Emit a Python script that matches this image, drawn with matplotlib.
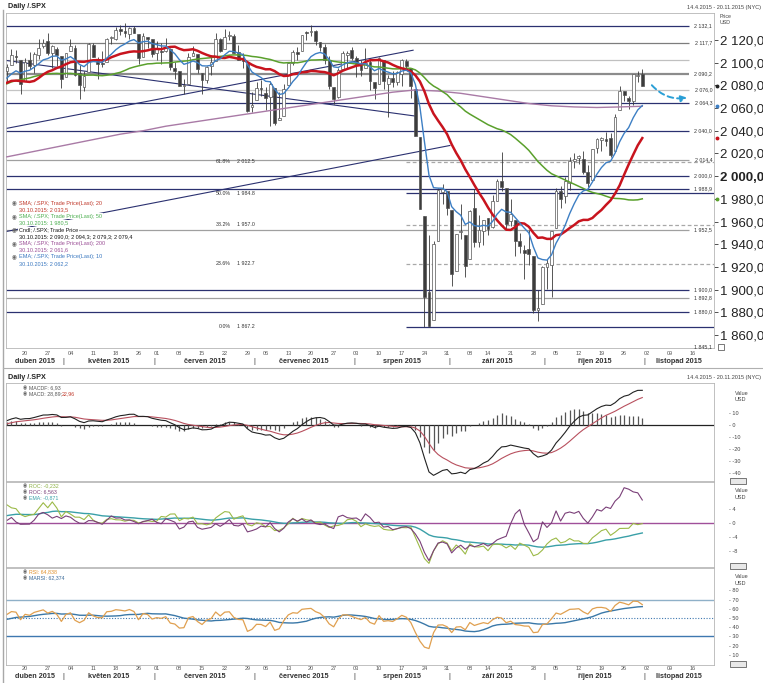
import numpy as np
import pandas as pd
import matplotlib
matplotlib.use("Agg")
import matplotlib.pyplot as plt
import matplotlib.transforms as mtransforms
from matplotlib.lines import Line2D
from matplotlib.patches import FancyArrowPatch, Rectangle

plt.rcParams['font.family'] = ['Liberation Sans', 'DejaVu Sans']

W, H = 763, 683

# closes before the visible window, only used to warm up the indicators
pre_close = [2058.20, 2020.58, 2002.61, 2025.90, 2062.14, 2044.81, 2028.26, 2023.03, 2011.27, 1992.67,
             2019.42, 2022.55, 2032.12, 2063.15, 2051.82, 2057.09, 2029.55, 2002.16, 2021.25, 1994.99,
             2020.85, 2050.03, 2041.51, 2062.52, 2055.47, 2046.74, 2068.59, 2068.53, 2088.48, 2096.99,
             2100.34, 2099.68, 2097.45, 2110.30, 2109.66, 2115.48, 2113.86, 2110.74, 2104.50,
             2117.39, 2107.78, 2098.53, 2101.04, 2071.26, 2079.43, 2044.16, 2040.24, 2065.95, 2053.40,
             2081.19, 2074.28, 2099.50, 2089.27, 2108.10, 2104.42, 2091.50, 2061.05, 2056.15, 2061.02,
             2086.24, 2067.89, 2059.69, 2066.96, 2080.62, 2076.33, 2081.90, 2091.18, 2102.06, 2092.43]

# daily candles 14.4.2015 - 30.10.2015
opens = [2092.3, 2097.8, 2106.0, 2102.6, 2084.1, 2102.8, 2098.3, 2107.2, 2114.8, 2119.3,
         2108.4, 2112.5, 2105.5, 2087.4, 2110.2, 2112.6, 2091.3, 2079.0, 2092.1, 2115.6,
         2102.9, 2099.6, 2100.4, 2122.1, 2121.3, 2129.5, 2127.8, 2125.6, 2130.4, 2125.3,
         2105.1, 2122.3, 2120.7, 2108.6, 2110.4, 2110.6, 2112.4, 2095.1, 2092.3, 2079.1,
         2081.0, 2106.2, 2107.4, 2091.3, 2084.3, 2097.4, 2101.6, 2121.1, 2112.5, 2123.2,
         2123.2, 2109.1, 2102.6, 2098.6, 2061.2, 2067.0, 2078.0, 2073.0, 2069.5, 2077.7,
         2049.7, 2052.7, 2080.0, 2099.7, 2109.0, 2110.6, 2126.8, 2126.9, 2127.6, 2118.2,
         2114.2, 2102.2, 2078.2, 2070.0, 2094.7, 2106.8, 2111.6, 2104.5, 2097.7, 2095.3,
         2100.9, 2082.6, 2081.0, 2102.7, 2081.1, 2086.2, 2083.2, 2089.7, 2101.7, 2095.7,
         2076.6, 2034.1, 1965.2, 1898.1, 1872.8, 1942.8, 1986.1, 1986.7, 1970.1, 1916.5,
         1950.8, 1947.8, 1927.3, 1971.5, 1941.6, 1951.5, 1963.1, 1955.1, 1978.0, 1995.3,
         1989.7, 1960.8, 1961.4, 1943.2, 1934.8, 1935.9, 1929.2, 1881.9, 1887.1, 1919.7,
         1921.8, 1954.3, 1986.6, 1982.3, 1994.0, 2013.7, 2015.7, 2015.0, 2003.7, 1996.5,
         2024.4, 2031.7, 2033.1, 2033.5, 2021.9, 2058.2, 2075.1, 2068.8, 2066.5, 2088.3,
         2090.0]
highs = [2098.6, 2111.9, 2111.3, 2102.6, 2103.9, 2109.6, 2109.0, 2120.5, 2120.9, 2125.9,
         2116.0, 2113.7, 2105.5, 2108.4, 2120.9, 2115.2, 2098.4, 2092.9, 2117.7, 2117.7,
         2105.1, 2110.2, 2121.5, 2123.9, 2131.8, 2133.0, 2134.7, 2131.8, 2132.2, 2125.3,
         2126.2, 2122.3, 2120.7, 2119.2, 2117.6, 2121.9, 2112.9, 2100.9, 2093.0, 2085.4,
         2108.5, 2115.0, 2107.4, 2091.3, 2097.4, 2106.8, 2126.6, 2121.6, 2129.9, 2128.0,
         2125.1, 2116.0, 2108.9, 2098.6, 2074.3, 2082.8, 2085.1, 2078.6, 2083.7, 2077.7,
         2074.3, 2081.3, 2100.7, 2111.4, 2114.1, 2124.4, 2128.1, 2132.8, 2128.4, 2118.5,
         2116.9, 2106.0, 2078.2, 2095.6, 2110.6, 2110.5, 2114.2, 2105.7, 2102.5, 2112.7,
         2103.3, 2082.6, 2105.4, 2102.7, 2089.1, 2092.9, 2092.5, 2102.9, 2103.5, 2095.7,
         2076.6, 2034.1, 1965.2, 1948.0, 1943.1, 1989.6, 1993.5, 1986.7, 1970.1, 1948.9,
         1975.0, 1947.8, 1970.4, 1988.6, 1965.3, 1961.1, 1963.1, 1983.2, 1997.3, 2020.9,
         1989.7, 1979.6, 1961.4, 1949.5, 1938.9, 1952.9, 1929.2, 1899.5, 1920.5, 1927.2,
         1951.4, 1989.2, 1991.6, 1999.3, 2016.5, 2020.1, 2018.7, 2022.3, 2009.6, 2024.2,
         2033.5, 2034.5, 2039.1, 2038.0, 2055.2, 2079.7, 2075.1, 2070.4, 2090.4, 2092.5,
         2094.3]
lows = [2083.2, 2097.8, 2100.0, 2072.4, 2084.1, 2094.4, 2091.1, 2103.2, 2112.8, 2107.0,
        2094.9, 2097.4, 2077.6, 2087.4, 2110.2, 2088.5, 2067.9, 2075.0, 2092.1, 2104.6,
        2085.6, 2096.0, 2100.4, 2116.8, 2120.0, 2124.5, 2122.6, 2120.9, 2126.1, 2099.2,
        2105.1, 2112.9, 2104.9, 2102.5, 2099.1, 2109.6, 2093.2, 2085.7, 2079.1, 2072.1,
        2081.0, 2106.2, 2091.3, 2072.5, 2082.1, 2088.9, 2101.6, 2109.5, 2112.5, 2119.9,
        2108.6, 2102.0, 2095.4, 2056.6, 2056.3, 2067.0, 2071.0, 2058.4, 2044.0, 2044.7,
        2049.7, 2052.7, 2080.0, 2098.2, 2102.5, 2110.6, 2119.9, 2123.7, 2115.4, 2110.0,
        2098.6, 2077.1, 2063.5, 2069.1, 2094.1, 2094.1, 2102.1, 2087.3, 2088.6, 2095.3,
        2075.5, 2067.9, 2081.0, 2076.5, 2052.1, 2078.3, 2080.6, 2079.3, 2094.1, 2069.1,
        2035.7, 1970.9, 1867.0, 1867.1, 1872.8, 1942.8, 1975.2, 1966.0, 1903.1, 1916.5,
        1944.7, 1911.2, 1927.3, 1937.9, 1937.2, 1939.2, 1948.3, 1954.3, 1977.9, 1986.7,
        1953.5, 1955.8, 1929.2, 1932.6, 1908.9, 1921.5, 1879.2, 1871.9, 1887.1, 1900.7,
        1893.7, 1954.3, 1972.0, 1976.4, 1987.5, 2007.6, 2010.3, 2001.8, 1990.7, 1996.5,
        2020.5, 2022.3, 2026.6, 2017.2, 2021.9, 2058.2, 2066.5, 2058.8, 2063.1, 2082.6,
        2079.3]
closes = [2095.8, 2106.6, 2105.0, 2081.2, 2100.4, 2097.3, 2108.0, 2112.9, 2117.7, 2108.9,
          2114.8, 2106.9, 2085.5, 2108.3, 2114.5, 2089.5, 2080.2, 2088.0, 2116.1, 2105.3,
          2099.1, 2098.5, 2121.1, 2122.7, 2129.2, 2127.8, 2125.9, 2130.8, 2126.1, 2104.2,
          2123.5, 2120.8, 2107.4, 2111.7, 2109.6, 2114.1, 2095.8, 2092.8, 2079.3, 2080.2,
          2105.2, 2108.9, 2094.1, 2084.4, 2096.3, 2100.4, 2121.2, 2110.0, 2122.9, 2124.2,
          2108.6, 2102.3, 2101.5, 2057.6, 2063.1, 2077.4, 2076.8, 2068.8, 2081.3, 2046.7,
          2051.3, 2076.6, 2099.6, 2109.0, 2107.4, 2124.3, 2126.6, 2128.3, 2119.2, 2114.2,
          2102.2, 2079.7, 2067.6, 2093.3, 2108.6, 2108.6, 2103.8, 2098.0, 2093.3, 2099.8,
          2083.6, 2077.6, 2104.2, 2084.1, 2086.1, 2083.4, 2091.5, 2102.4, 2096.9, 2079.6,
          2035.7, 1970.9, 1893.2, 1867.6, 1940.5, 1987.7, 1988.9, 1972.2, 1913.9, 1948.9,
          1951.1, 1921.2, 1969.4, 1942.0, 1952.3, 1961.1, 1953.0, 1978.1, 1995.3, 1990.2,
          1958.0, 1967.0, 1942.7, 1938.8, 1932.2, 1931.3, 1881.8, 1884.1, 1920.0, 1923.8,
          1951.4, 1987.1, 1979.9, 1995.8, 2013.4, 2014.9, 2017.5, 2003.7, 1994.2, 2023.9,
          2033.1, 2033.7, 2030.8, 2018.9, 2052.5, 2075.2, 2071.2, 2065.9, 2090.4, 2089.4,
          2079.4]

# SMA 200
sma200_idx = [0, 5, 10, 15, 20, 25, 30, 35, 40, 45, 50, 55, 60, 65, 70,
              75, 80, 85, 90, 95, 100, 105, 110, 115, 120, 125, 130, 135, 140]
sma200_val = [2017, 2021, 2025, 2029, 2033, 2037, 2040, 2044, 2047, 2050, 2053, 2056, 2059, 2062, 2065,
              2068, 2071, 2074, 2076, 2075, 2073, 2070, 2067, 2064, 2062, 2061, 2060.5, 2061, 2061.6]

# horizontal levels with their labels
level_prices = [2132.1, 2117.7, 2090.2, 2076.0, 2064.3, 2040.0, 2014.4, 2000.0, 1988.9, 1952.5, 1900.0, 1892.8, 1880.0]
level_colors = ['#2b3170', '#7d7d7d', '#8c8c8c', '#c4c4c4', '#2b3170', '#2b3170', '#a0a0a0',
                '#2b3170', '#2b3170', '#a0a0a0', '#2b3170', '#a0a0a0', '#2b3170']
fib_pct = ['61.8%', '50.0%', '38.2%', '23.6%', '0.0%']
fib_price = [2012.5, 1984.8, 1957.0, 1922.7, 1867.2]
fib_top = 2102.3

# drawn trend lines: (start index, end index), (start price, end price)
trend_lines = [([-0.2, 89.5], [2042.0, 2111.0]),
               ([-0.4, 97.6], [1951.0, 2027.0]),
               ([-0.2, 89.9], [2102.0, 2053.0])]

month_names = ['duben 2015', 'květen 2015', 'červen 2015', 'červenec 2015',
               'srpen 2015', 'září 2015', 'říjen 2015', 'listopad 2015']
holidays = ['2015-05-25', '2015-07-03', '2015-09-07']

days = pd.bdate_range('2015-04-14', '2015-11-20')
days = days[~days.isin(pd.to_datetime(holidays))]
XMIN, XMAX = -0.2, len(days) - 0.2

# indicators from the closes
s = pd.Series(pre_close + closes)
npre = len(pre_close)
ema10 = s.ewm(span=10, adjust=False).mean().iloc[npre:].values
sma20 = s.rolling(20).mean().iloc[npre:].values
sma50 = s.rolling(50).mean().iloc[npre:].values
macd_full = s.ewm(span=12, adjust=False).mean() - s.ewm(span=26, adjust=False).mean()
sig_full = macd_full.ewm(span=9, adjust=False).mean()
macd = macd_full.iloc[npre:].values
sig = sig_full.iloc[npre:].values
hist = macd - sig
roc20 = ((s / s.shift(20) - 1) * 100).iloc[npre:].values
roc60_full = (s / s.shift(60) - 1) * 100
roc60 = roc60_full.iloc[npre:].values
roc_ema = roc60_full.ewm(span=20, adjust=False).mean().iloc[npre:].values
d = s.diff()
gain = d.clip(lower=0).ewm(alpha=1 / 14, adjust=False).mean()
loss = (-d.clip(upper=0)).ewm(alpha=1 / 14, adjust=False).mean()
rsi_full = 100 - 100 / (1 + gain / loss)
rsi = rsi_full.iloc[npre:].values
marsi = rsi_full.rolling(14).mean().iloc[npre:].values

idx = np.arange(len(closes))
o, hi, lo, c = map(np.array, (opens, highs, lows, closes))

fig = plt.figure(figsize=(W / 100, H / 100), dpi=100)
fig.patch.set_facecolor('white')


def px_axes(x0, y0, x1, y1):
    return fig.add_axes([x0 / W, 1 - y1 / H, (x1 - x0) / W, (y1 - y0) / H])


def ftext(x, y, txt, **kw):
    return fig.text(x / W, 1 - y / H, txt, **kw)


def style_axes(a):
    a.set_xlim(XMIN, XMAX)
    a.set_xticks([])
    for sp in a.spines.values():
        sp.set_color('#b5b5b5')
        sp.set_linewidth(0.6)
    a.yaxis.tick_right()


def price_fmt(v):
    return '{:,.1f}'.format(v).replace(',', ' ').replace('.', ',')


def date_axis(a, y_day, y_month):
    tr = mtransforms.blended_transform_factory(a.transData, fig.transFigure)
    weeks = days.to_period('W')
    for i in range(1, len(days)):
        if weeks[i] != weeks[i - 1]:
            a.text(i, 1 - y_day / H, days[i].strftime('%d'), transform=tr, ha='center', va='center',
                   fontsize=4, color='#555555')
    starts = [i for i in range(1, len(days)) if days[i].month != days[i - 1].month]
    edges = [XMIN] + [i - 0.5 for i in starts] + [XMAX]
    for k, name in enumerate(month_names):
        a.text((edges[k] + edges[k + 1]) / 2, 1 - y_month / H, name, transform=tr, ha='center',
               va='center', fontsize=5.2, fontweight='bold', color='#333333')
    for e in edges[1:-1]:
        a.text(e, 1 - y_month / H, '|', transform=tr, ha='center', va='center', fontsize=5.5, color='#333333')


# ---------------- main price panel ----------------
ax = px_axes(6, 13, 714, 348)
style_axes(ax)
ax.set_ylim(1848.5, 2143.8)

for p, col in zip(level_prices, level_colors):
    ax.hlines(p, XMIN, 150.2, color=col, lw=1.6 if p == 2090.2 else 0.9, zorder=1)
    ax.text(155.4, p, price_fmt(p), ha='right', va='center', fontsize=3.8, color='#333333', zorder=2)
ax.text(155.4, 1849.5, price_fmt(1845.1), ha='right', va='center', fontsize=3.8, color='#333333')
ax.hlines(fib_top, XMIN, 150.2, color='#c0c0c0', lw=0.9, zorder=1)
for pct, p in zip(fib_pct, fib_price):
    solid = pct in ('50.0%', '0.0%')
    ax.hlines(p, 88, XMAX, color='#2b3170' if solid else '#a8a8a8', lw=0.9,
              linestyles='-' if solid else (0, (3, 2)), zorder=1)
    ax.text(49.3, p, pct, ha='right', va='center', fontsize=3.8, color='#333333')
    ax.text(50.8, p, '{:,.1f}'.format(p).replace(',', ' '), ha='left', va='center', fontsize=3.8, color='#333333')

for xs, ys in trend_lines:
    ax.plot(xs, ys, color='#2b3170', lw=0.8, zorder=2)

ax.vlines(idx, lo, hi, color='#3a3a3a', lw=0.6, zorder=3)
ax.bar(idx, np.maximum(np.abs(c - o), 0.6), bottom=np.minimum(o, c), width=0.62,
       color=np.where(c >= o, 'white', '#3c3c3c'), edgecolor='#555555', linewidth=0.5, zorder=4)

ax.plot(sma200_idx, sma200_val, color='#a97aa6', lw=1.0, zorder=5)
ax.plot(idx, sma50, color='#5aa02c', lw=1.1, zorder=5)
ax.plot(idx, sma20, color='#c8141e', lw=1.8, zorder=6)
ax.plot(idx, ema10, color='#3d7fc4', lw=1.0, zorder=7)

ax.add_patch(FancyArrowPatch((141.7, 2082), (150.5, 2069.6), connectionstyle='arc3,rad=0.3',
                             arrowstyle='-|>', mutation_scale=9, color='#2a9fd6', lw=1.4,
                             linestyle=(0, (3, 2)), zorder=8))

ax.set_yticks(np.arange(1860, 2121, 20))
ax.set_yticklabels([price_fmt(v) for v in np.arange(1860, 2121, 20)])
ax.tick_params(axis='y', length=3, width=0.6, color='#333333', labelsize=9.5, pad=1, labelcolor='#222222')
for lab in ax.get_yticklabels():
    if lab.get_text() == '2 000,0':
        lab.set_fontweight('bold')
rtr = mtransforms.blended_transform_factory(ax.transAxes, ax.transData)
for val, col in [(c[-1], '#222222'), (ema10[-1], '#3d7fc4'), (sma20[-1], '#c8141e'), (sma50[-1], '#5aa02c')]:
    ax.plot([1.004], [val], marker='o', ms=1.8, color=col, transform=rtr, clip_on=False)
date_axis(ax, 353, 361)

legend_rows = [('SMA; /.SPX; Trade Price(Last); 20', '30.10.2015: 2 033,5', '#c0392b'),
               ('SMA; /.SPX; Trade Price(Last); 50', '30.10.2015: 1 980,5', '#4caf50'),
               ('Cndl; /.SPX; Trade Price', '30.10.2015: 2 090,0; 2 094,3; 2 079,3; 2 079,4', '#111111'),
               ('SMA; /.SPX; Trade Price(Last); 200', '30.10.2015: 2 061,6', '#9b4f96'),
               ('EMA; /.SPX; Trade Price(Last); 10', '30.10.2015: 2 062,2', '#3a78c0')]
for k, (t1, t2, col) in enumerate(legend_rows):
    y0 = 203 + k * 13.4
    ftext(12, y0, '\u25c9', fontsize=4, color='#666666', va='center')
    ftext(19, y0, t1, fontsize=4, color=col, va='center',
          bbox=dict(fc='white', ec='none', pad=0.4))
    ftext(19, y0 + 6.7, t2, fontsize=4, color=col, va='center',
          bbox=dict(fc='white', ec='none', pad=0.4))

ftext(8, 6, 'Daily /.SPX', fontsize=5.2, fontweight='bold', color='#222222', va='center')
ftext(761, 7, '14.4.2015 - 20.11.2015 (NYC)', fontsize=4, color='#444444', ha='right', va='center')
ftext(720, 16, 'Price', fontsize=3.8, color='#444444', va='center')
ftext(720, 22, 'USD', fontsize=3.8, color='#444444', va='center')
fig.patches.append(Rectangle((718 / W, 1 - 350 / H), 6 / W, 6 / H, transform=fig.transFigure,
                             fc='white', ec='#444444', lw=0.5))

# separators and frame
fig.add_artist(Line2D([3 / W, 3 / W], [0, 1 - 10 / H], color='#a8a8a8', lw=1.0))
fig.add_artist(Line2D([3 / W, 1], [1 - 368 / H, 1 - 368 / H], color='#b0b0b0', lw=0.8))
ftext(8, 377, 'Daily /.SPX', fontsize=5.2, fontweight='bold', color='#222222', va='center')
ftext(761, 377, '14.4.2015 - 20.11.2015 (NYC)', fontsize=4, color='#444444', ha='right', va='center')


def small_ticks(a, vals):
    a.set_yticks(vals)
    a.set_yticklabels(['- ' + '{:g}'.format(v) for v in vals])
    a.tick_params(axis='y', length=0, labelsize=4, pad=11, labelcolor='#444444')


def value_usd(y):
    ftext(735, y, 'Value', fontsize=4, color='#444444', va='center')
    ftext(735, y + 6.5, 'USD', fontsize=4, color='#444444', va='center')


def ctrl_box(y):
    fig.patches.append(Rectangle((730 / W, 1 - (y + 3) / H), 16 / W, 6 / H, transform=fig.transFigure,
                                 fc='#e8e8e8', ec='#444444', lw=0.5))


# ---------------- MACD ----------------
ax1 = px_axes(6, 383, 714, 481)
style_axes(ax1)
ax1.set_ylim(-46.7, 35)
ax1.axhline(0, color='#222222', lw=0.9)
ax1.vlines(idx, 0, hist, color='#555555', lw=0.9)
ax1.plot(idx, sig, color='#b8505e', lw=0.8)
ax1.plot(idx, macd, color='#222222', lw=0.8)
small_ticks(ax1, [10, 0, -10, -20, -30, -40])
value_usd(393)
ctrl_box(481)
ftext(23, 388, '\u25c9', fontsize=3.5, color='#666666', va='center')
ftext(29, 388, 'MACDF: 6,93', fontsize=3.8, color='#555555', va='center')
ftext(23, 394, '\u25c9', fontsize=3.5, color='#666666', va='center')
ftext(29, 394, 'MACD: 28,89;', fontsize=3.8, color='#555555', va='center')
ftext(62, 394, '22,96', fontsize=3.8, color='#c0392b', va='center')

# ---------------- ROC ----------------
ax2 = px_axes(6, 482, 714, 567)
style_axes(ax2)
ax2.set_ylim(-12.6, 11.7)
ax2.axhline(0, color='#a0509a', lw=1.0)
ax2.plot(idx, roc_ema, color='#3aa0a8', lw=1.0)
ax2.plot(idx, roc60, color='#9cba48', lw=0.8)
ax2.plot(idx, roc20, color='#7a3f78', lw=0.8)
small_ticks(ax2, [4, 0, -4, -8])
value_usd(491)
ctrl_box(566)
for k, (t, col) in enumerate([('ROC: -0,232', '#8ab040'), ('ROC: 6,563', '#7a3f78'), ('EMA: -0,871', '#3aa0a8')]):
    ftext(23, 486 + k * 5.8, '\u25c9', fontsize=3.5, color='#666666', va='center')
    ftext(29, 486 + k * 5.8, t, fontsize=3.8, color=col, va='center')

# ---------------- RSI ----------------
ax3 = px_axes(6, 568, 714, 665)
style_axes(ax3)
ax3.set_ylim(-1.1, 104.3)
ax3.axhline(70, color='#8fb0c8', lw=1.0)
ax3.axhline(30, color='#3f78b0', lw=1.0)
ax3.axhline(50, color='#3f78b0', lw=0.8, ls=(0, (1, 1.5)))
ax3.plot(idx, marsi, color='#3a78a8', lw=1.0)
ax3.plot(idx, rsi, color='#e0a050', lw=0.9)
small_ticks(ax3, [80, 70, 60, 50, 40, 30, 20, 10])
value_usd(577)
ctrl_box(664)
ftext(23, 572, '\u25c9', fontsize=3.5, color='#666666', va='center')
ftext(29, 572, 'RSI: 64,838', fontsize=3.8, color='#e0902a', va='center')
ftext(23, 578, '\u25c9', fontsize=3.5, color='#666666', va='center')
ftext(29, 578, 'MARSI: 62,374', fontsize=3.8, color='#3a6a98', va='center')
date_axis(ax3, 668, 677)

fig.savefig('out.png', dpi=100)
